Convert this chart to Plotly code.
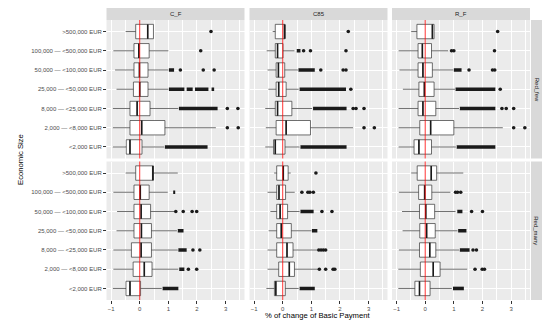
import plotly.graph_objects as go

# page body has an 8px default margin; figure is sized to fit the rest of the window
OFF = 8
W, H = 550 - OFF, 328 - OFF

categories = ["<2,000 EUR", "2,000 — <8,000 EUR", "8,000 — <25,000 EUR",
              "25,000 — <50,000 EUR", "50,000 — <100,000 EUR",
              "100,000 — <500,000 EUR", ">500,000 EUR"]
col_labels = ["C_F", "C85", "R_F"]
row_labels = ["Red_few", "Red_many"]
x_ticks = [-1, 0, 1, 2, 3]

# ---------- Red_few ----------
CF_few_lo = [-0.94, -0.94, -0.94, -0.81, -0.86, -0.92, -0.49]
CF_few_q1 = [-0.47, -0.34, -0.34, -0.22, -0.20, -0.20, -0.14]
CF_few_med = [-0.34, 0.07, -0.09, 0.00, -0.01, -0.03, 0.28]
CF_few_q3 = [0.08, 0.88, 0.36, 0.29, 0.29, 0.33, 0.48]
CF_few_hi = [0.86, 2.66, 1.35, 1.00, 1.00, 1.00, 0.48]
CF_few_out_cat = [1, 1, 2, 2, 4, 4, 4, 5, 6]
CF_few_out_val = [3.06, 3.44, 3.06, 3.43, 1.42, 2.22, 2.60, 2.13, 2.49]
CF_few_run_cat = [0, 2, 3, 3, 3, 3, 4]
CF_few_run_from = [0.88, 1.37, 1.02, 1.64, 1.93, 2.51, 1.02]
CF_few_run_to = [2.37, 2.72, 1.56, 1.85, 2.40, 2.60, 1.20]

C85_few_lo = [-0.61, -0.59, -0.61, -0.50, -0.53, -0.56, -0.35]
C85_few_q1 = [-0.32, -0.23, -0.26, -0.23, -0.23, -0.26, -0.26]
C85_few_med = [-0.26, 0.12, -0.18, -0.14, -0.15, -0.18, 0.07]
C85_few_q3 = [0.08, 0.97, 0.32, 0.12, 0.07, 0.01, 0.08]
C85_few_hi = [0.59, 2.46, 1.03, 0.56, 0.53, 0.41, 0.08]
C85_few_out_cat = [1, 1, 2, 2, 2, 3, 4, 4, 4, 5, 5, 5, 6]
C85_few_out_val = [2.84, 3.20, 2.46, 2.56, 2.84, 2.38, 1.33, 2.11, 2.21, 0.73, 0.97, 2.21, 2.29]
C85_few_run_cat = [0, 2, 3, 4, 5]
C85_few_run_from = [0.62, 1.06, 0.59, 0.55, 0.49]
C85_few_run_to = [2.23, 2.23, 2.21, 1.12, 0.62]

RF_few_lo = [-0.93, -0.93, -0.93, -0.78, -0.90, -0.93, -0.49]
RF_few_q1 = [-0.39, -0.19, -0.25, -0.22, -0.25, -0.25, -0.29]
RF_few_med = [-0.22, 0.19, -0.08, -0.03, -0.08, -0.10, 0.25]
RF_few_q3 = [0.22, 1.00, 0.37, 0.31, 0.25, 0.22, 0.31]
RF_few_hi = [1.07, 2.71, 1.18, 1.04, 0.98, 0.80, 0.31]
RF_few_out_cat = [1, 1, 2, 2, 2, 3, 4, 4, 4, 5, 5, 5, 6]
RF_few_out_val = [3.09, 3.48, 2.68, 2.83, 3.09, 2.62, 1.53, 2.35, 2.43, 0.92, 1.00, 2.42, 2.53]
RF_few_run_cat = [0, 2, 3, 4]
RF_few_run_from = [1.10, 1.21, 1.06, 1.00]
RF_few_run_to = [2.45, 2.45, 2.45, 1.27]

# ---------- Red_many ----------
CF_many_lo = [-0.94, -0.92, -0.92, -0.81, -0.79, -0.92, -0.49]
CF_many_q1 = [-0.48, -0.23, -0.29, -0.20, -0.20, -0.20, -0.14]
CF_many_med = [-0.34, 0.16, 0.05, 0.06, 0.05, 0.02, 0.46]
CF_many_q3 = [0.03, 0.43, 0.41, 0.41, 0.38, 0.33, 0.48]
CF_many_hi = [0.77, 1.35, 1.33, 1.30, 1.21, 0.98, 1.33]
CF_many_out_cat = [1, 1, 2, 2, 4, 4, 4, 4]
CF_many_out_val = [1.70, 1.99, 1.86, 2.10, 1.26, 1.52, 1.83, 1.99]
CF_many_run_cat = [0, 1, 2, 3, 5]
CF_many_run_from = [0.80, 1.38, 1.35, 1.33, 1.17]
CF_many_run_to = [1.35, 1.56, 1.64, 1.53, 1.24]

C85_many_lo = [-0.57, -0.53, -0.53, -0.49, -0.43, -0.53, -0.30]
C85_many_q1 = [-0.29, -0.14, -0.21, -0.21, -0.21, -0.21, -0.21]
C85_many_med = [-0.24, 0.23, 0.15, -0.05, -0.09, -0.13, 0.02]
C85_many_q3 = [0.09, 0.41, 0.36, 0.30, 0.17, 0.10, 0.19]
C85_many_hi = [0.56, 1.23, 1.21, 1.00, 0.59, 0.42, 0.28]
C85_many_out_cat = [1, 1, 1, 1, 2, 2, 2, 2, 4, 4, 5, 5, 5, 5, 6]
C85_many_out_val = [1.28, 1.50, 1.76, 1.82, 1.26, 1.34, 1.42, 1.50, 1.37, 1.72, 0.67, 0.88, 0.95, 1.07, 1.16]
C85_many_run_cat = [0, 3, 4]
C85_many_run_from = [0.59, 1.02, 0.62]
C85_many_run_to = [1.12, 1.21, 1.08]

RF_many_lo = [-0.94, -0.94, -0.92, -0.79, -0.81, -0.92, -0.49]
RF_many_q1 = [-0.36, -0.17, -0.20, -0.19, -0.20, -0.23, -0.28]
RF_many_med = [-0.20, 0.28, 0.16, 0.05, 0.02, -0.02, 0.21]
RF_many_q3 = [0.17, 0.52, 0.37, 0.35, 0.33, 0.23, 0.40]
RF_many_hi = [0.93, 1.47, 1.19, 1.13, 1.06, 0.88, 1.33]
RF_many_out_cat = [1, 1, 1, 2, 2, 4, 4, 5, 5, 5]
RF_many_out_val = [1.74, 1.99, 2.07, 1.67, 1.79, 1.62, 2.00, 1.06, 1.13, 1.24]
RF_many_run_cat = [0, 2, 3, 4]
RF_many_run_from = [0.97, 1.21, 1.15, 1.12]
RF_many_run_to = [1.35, 1.55, 1.44, 1.30]

panels = [
    (0, 0, CF_few_lo, CF_few_q1, CF_few_med, CF_few_q3, CF_few_hi, CF_few_out_cat, CF_few_out_val, CF_few_run_cat, CF_few_run_from, CF_few_run_to),
    (0, 1, C85_few_lo, C85_few_q1, C85_few_med, C85_few_q3, C85_few_hi, C85_few_out_cat, C85_few_out_val, C85_few_run_cat, C85_few_run_from, C85_few_run_to),
    (0, 2, RF_few_lo, RF_few_q1, RF_few_med, RF_few_q3, RF_few_hi, RF_few_out_cat, RF_few_out_val, RF_few_run_cat, RF_few_run_from, RF_few_run_to),
    (1, 0, CF_many_lo, CF_many_q1, CF_many_med, CF_many_q3, CF_many_hi, CF_many_out_cat, CF_many_out_val, CF_many_run_cat, CF_many_run_from, CF_many_run_to),
    (1, 1, C85_many_lo, C85_many_q1, C85_many_med, C85_many_q3, C85_many_hi, C85_many_out_cat, C85_many_out_val, C85_many_run_cat, C85_many_run_from, C85_many_run_to),
    (1, 2, RF_many_lo, RF_many_q1, RF_many_med, RF_many_q3, RF_many_hi, RF_many_out_cat, RF_many_out_val, RF_many_run_cat, RF_many_run_from, RF_many_run_to),
]

# pixel layout (window coordinates)
col_px = [(106.5, 244.5), (249.5, 387.5), (392.0, 530.0)]
row_px = [(20.0, 158.5), (161.5, 300.0)]
strip_top = (8.0, 20.0)
strip_right = (531.0, 542.0)

def px_x(v):
    return (v - OFF) / W

def px_y(v):
    return 1 - (v - OFF) / H

fig = go.Figure()
layout = dict(width=W, height=H, margin=dict(l=0, r=0, t=0, b=0, pad=0, autoexpand=False),
              autosize=False,
              paper_bgcolor="white", plot_bgcolor="#EBEBEB", showlegend=False,
              font=dict(family="Liberation Sans, Arial, sans-serif", size=6, color="#4D4D4D"))
shapes = []
annotations = []
dark = "#333333"

for (r, c, lo, q1, med, q3, hi, ocat, oval, rcat, rfrom, rto) in panels:
    idx = r * 3 + c + 1
    xs = "x" if idx == 1 else f"x{idx}"
    ys = "y" if idx == 1 else f"y{idx}"
    fig.add_trace(go.Box(orientation="h", y=categories, q1=q1, median=med, q3=q3,
                         lowerfence=lo, upperfence=hi, boxpoints=False, whiskerwidth=0,
                         width=0.75, fillcolor="white", line=dict(color=dark, width=0.7),
                         xaxis=xs, yaxis=ys, hoverinfo="skip"))
    fig.add_trace(go.Scatter(x=med, y=categories, mode="markers", xaxis=xs, yaxis=ys,
                             marker=dict(symbol="line-ns", size=10.2,
                                         line=dict(width=1.6, color="#1a1a1a")),
                             hoverinfo="skip"))
    fig.add_trace(go.Scatter(x=oval, y=[categories[k] for k in ocat], mode="markers",
                             xaxis=xs, yaxis=ys,
                             marker=dict(size=3.6, color="#1a1a1a", line=dict(width=0)),
                             hoverinfo="skip"))
    lx, ly = [], []
    for k, a, b in zip(rcat, rfrom, rto):
        lx += [a, b, None]
        ly += [categories[k], categories[k], None]
    fig.add_trace(go.Scatter(x=lx, y=ly, mode="lines", xaxis=xs, yaxis=ys,
                             line=dict(color="#1a1a1a", width=3.6), hoverinfo="skip"))

    xk = "xaxis" if idx == 1 else f"xaxis{idx}"
    yk = "yaxis" if idx == 1 else f"yaxis{idx}"
    x0, x1 = col_px[c]
    y0, y1 = row_px[r]
    layout[xk] = dict(domain=[px_x(x0), px_x(x1)], anchor=ys, range=[-1.16, 3.66],
                      tickvals=x_ticks, showticklabels=(r == 1), automargin=False,
                      ticks="outside" if r == 1 else "", ticklen=2.5, tickwidth=0.8,
                      tickcolor=dark, showgrid=True, gridcolor="white", gridwidth=1,
                      zeroline=False, showline=False,
                      minor=dict(tickvals=[-0.5, 0.5, 1.5, 2.5, 3.5], showgrid=True,
                                 gridcolor="white", gridwidth=0.5, ticks=""),
                      tickfont=dict(size=6, color="#4D4D4D"), fixedrange=True)
    layout[yk] = dict(domain=[px_y(y1), px_y(y0)], anchor=xs, type="category",
                      categoryorder="array", categoryarray=categories, range=[-0.6, 6.6],
                      showticklabels=(c == 0), ticks="outside" if c == 0 else "",
                      ticklen=2.5, tickwidth=0.8, tickcolor=dark, automargin=False,
                      showgrid=True, gridcolor="white", gridwidth=1, zeroline=False,
                      showline=False, tickfont=dict(size=6, color="#4D4D4D"),
                      fixedrange=True)
    shapes.append(dict(type="line", xref=xs, yref=f"{ys} domain", x0=0, x1=0, y0=0, y1=1,
                       line=dict(color="red", width=0.8), layer="above"))

# strips
for c, lab in enumerate(col_labels):
    x0, x1 = col_px[c]
    shapes.append(dict(type="rect", xref="paper", yref="paper", x0=px_x(x0), x1=px_x(x1),
                       y0=px_y(strip_top[1]), y1=px_y(strip_top[0]),
                       fillcolor="#D9D9D9", line=dict(width=0), layer="below"))
    annotations.append(dict(text=lab, xref="paper", yref="paper", x=px_x((x0 + x1) / 2),
                            y=px_y((strip_top[0] + strip_top[1]) / 2), showarrow=False,
                            font=dict(size=6, color="#1A1A1A"), xanchor="center",
                            yanchor="middle"))
for r, lab in enumerate(row_labels):
    y0, y1 = row_px[r]
    shapes.append(dict(type="rect", xref="paper", yref="paper", x0=px_x(strip_right[0]),
                       x1=px_x(strip_right[1]), y0=px_y(y1), y1=px_y(y0),
                       fillcolor="#D9D9D9", line=dict(width=0), layer="below"))
    annotations.append(dict(text=lab, xref="paper", yref="paper",
                            x=px_x((strip_right[0] + strip_right[1]) / 2),
                            y=px_y((y0 + y1) / 2), showarrow=False, textangle=90,
                            font=dict(size=6, color="#1A1A1A"), xanchor="center",
                            yanchor="middle"))

annotations.append(dict(text="% of change of Basic Payment", xref="paper", yref="paper",
                        x=px_x((col_px[0][0] + col_px[2][1]) / 2), y=px_y(315),
                        showarrow=False, font=dict(size=7.7, color="black"),
                        xanchor="center", yanchor="middle"))
annotations.append(dict(text="Economic Size", xref="paper", yref="paper",
                        x=px_x(20), y=px_y((row_px[0][0] + row_px[1][1]) / 2),
                        showarrow=False, textangle=-90, font=dict(size=7.7, color="black"),
                        xanchor="center", yanchor="middle"))

layout["shapes"] = shapes
layout["annotations"] = annotations
fig.update_layout(**layout)
fig.write_html("out.html")
